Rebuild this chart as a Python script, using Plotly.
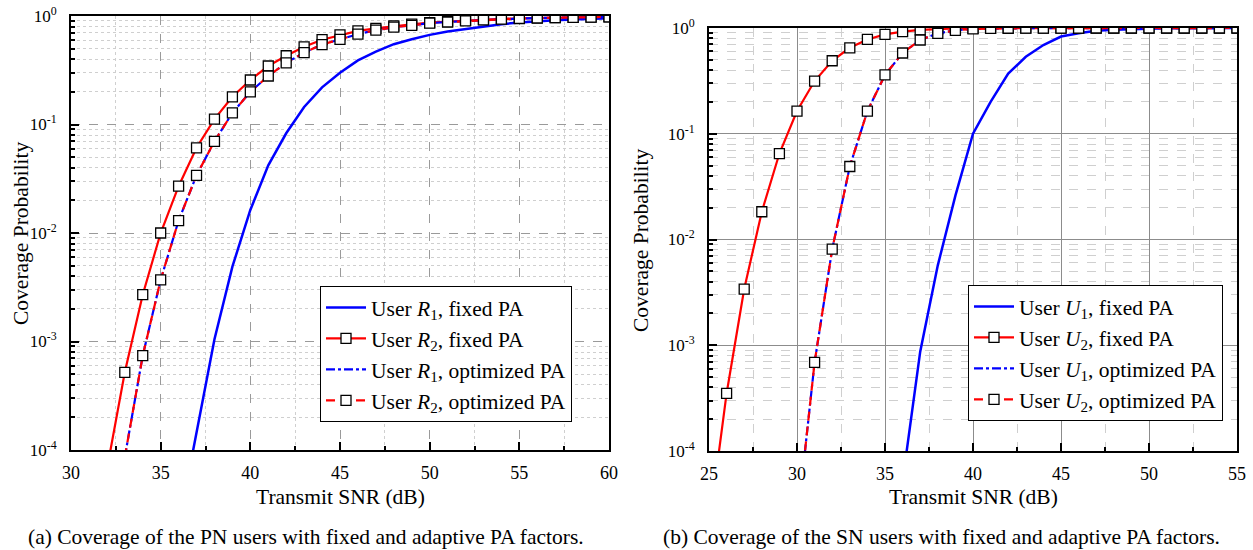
import plotly.graph_objects as go

# ---------------- data ----------------
# (a) primary-network users, transmit SNR in dB
snr_pn = list(range(32, 61))
pn_r1_fixed = [None, None, None, None, 2e-5, 1.5e-4, 1.05e-3, 4.9e-3, 0.0163, 0.042,
               0.083, 0.145, 0.22, 0.30, 0.39, 0.47, 0.55, 0.61, 0.67, 0.72,
               0.76, 0.80, 0.84, 0.87, 0.895, 0.915, 0.93, 0.945, 0.955]
pn_r2_fixed = [6.6e-5, 5.2e-4, 2.7e-3, 0.010, 0.027, 0.061, 0.112, 0.18, 0.257, 0.346,
               0.43, 0.52, 0.605, 0.67, 0.73, 0.77, 0.81, 0.84, 0.87, 0.89,
               0.91, 0.925, 0.94, 0.95, 0.96, 0.967, 0.973, 0.978, 0.983]
pn_r1_opt = [None, 8.6e-5, 7.4e-4, 3.7e-3, 0.013, 0.034, 0.07, 0.128, 0.20, 0.28,
             0.37, 0.46, 0.545, 0.61, 0.68, 0.74, 0.79, 0.82, 0.86, 0.88,
             0.90, 0.92, 0.935, 0.948, 0.958, 0.966, 0.972, 0.977, 0.982]
pn_r2_opt = list(pn_r1_opt)

# (b) secondary-network users
snr_sn = list(range(25, 56))
sn_u1_fixed = [None] * 11 + [5.2e-5, 8.7e-4, 5.7e-3, 0.026, 0.10, 0.20, 0.37, 0.535, 0.69,
                             0.83, 0.89, 0.94, 0.965, 0.98, 0.99, 0.995, 0.997, 0.998, 0.999, 0.999]
sn_u2_fixed = [1.9e-5, 3.5e-4, 3.4e-3, 0.0183, 0.065, 0.164, 0.315, 0.49, 0.65, 0.78,
               0.87, 0.925, 0.96, 0.98, 0.99, 0.995, 0.997, 0.998, 0.999, 0.9995,
               0.9995, 0.9995, 0.9995, 0.9995, 0.9995, 0.9995, 0.9995, 0.9995, 0.9995, 0.9995, 0.9995]
sn_u1_opt = [None] * 5 + [2e-5, 6.9e-4, 8.1e-3, 0.049, 0.164, 0.36, 0.58, 0.77, 0.89, 0.95,
                          0.98, 0.99, 0.995, 0.997, 0.998, 0.999, 0.999, 0.9995, 0.9995, 0.9995,
                          0.9995, 0.9995, 0.9995, 0.9995, 0.9995, 0.9995]
sn_u2_opt = list(sn_u1_opt)

y_tickvals = [1e-4, 1e-3, 1e-2, 1e-1, 1]
y_ticktext = ["10<sup>-4</sup>", "10<sup>-3</sup>", "10<sup>-2</sup>", "10<sup>-1</sup>", "10<sup>0</sup>"]
y_minor = [k * 10.0 ** e for e in range(-4, 0) for k in range(2, 10)]

FONT = "Liberation Serif, Times New Roman, serif"
BLUE = "#0000ff"
RED = "#ff0000"
TEXT_SIZE = 21.5

fig = go.Figure()


def add_series(x, y, name, color, dash, marker, xa, ya, legend, width=2.2):
    fig.add_trace(go.Scatter(
        x=x, y=y, name=name, mode="lines+markers" if marker else "lines",
        line=dict(color=color, width=width, dash=dash),
        marker=dict(symbol="square", size=10, color="white",
                    line=dict(color="black", width=1.3)) if marker else None,
        xaxis=xa, yaxis=ya, legend=legend,
    ))


add_series(snr_pn, pn_r1_fixed, "User <i>R</i><sub>1</sub>, fixed PA", BLUE, "solid", False, "x", "y", "legend", 2.5)
add_series(snr_pn, pn_r2_fixed, "User <i>R</i><sub>2</sub>, fixed PA", RED, "solid", True, "x", "y", "legend")
add_series(snr_pn, pn_r1_opt, "User <i>R</i><sub>1</sub>, optimized PA", BLUE, "dashdot", False, "x", "y", "legend")
add_series(snr_pn, pn_r2_opt, "User <i>R</i><sub>2</sub>, optimized PA", RED, "9px,6px", True, "x", "y", "legend")

add_series(snr_sn, sn_u1_fixed, "User <i>U</i><sub>1</sub>, fixed PA", BLUE, "solid", False, "x2", "y2", "legend2", 2.5)
add_series(snr_sn, sn_u2_fixed, "User <i>U</i><sub>2</sub>, fixed PA", RED, "solid", True, "x2", "y2", "legend2")
add_series(snr_sn, sn_u1_opt, "User <i>U</i><sub>1</sub>, optimized PA", BLUE, "dashdot", False, "x2", "y2", "legend2")
add_series(snr_sn, sn_u2_opt, "User <i>U</i><sub>2</sub>, optimized PA", RED, "9px,6px", True, "x2", "y2", "legend2")

W, H = 1253, 550


def px_x(v):
    return v / W


def px_y(v):
    return 1 - v / H


def xaxis(domain, rng, anchor, major_grid, minor_grid):
    return dict(
        domain=domain, range=rng, dtick=5, tick0=0, anchor=anchor, automargin=False,
        showline=True, mirror=True, linecolor="black", linewidth=1.8,
        ticks="inside", ticklen=8, tickwidth=1.5, tickcolor="black",
        tickfont=dict(family=FONT, size=18, color="black"), ticklabelstandoff=5,
        showgrid=True, gridcolor=major_grid[0], griddash=major_grid[1], gridwidth=1,
        zeroline=False,
        minor=dict(dtick=2.5, ticks="inside", ticklen=4, tickcolor="black",
                   showgrid=True, gridcolor=minor_grid[0], griddash=minor_grid[1], gridwidth=1),
    )


def yaxis(domain, anchor, major_grid, minor_grid):
    return dict(
        domain=domain, anchor=anchor, type="log", range=[-4, 0], automargin=False,
        tickmode="array", tickvals=y_tickvals, ticktext=y_ticktext,
        showline=True, mirror=True, linecolor="black", linewidth=1.8,
        ticks="inside", ticklen=8, tickwidth=1.5, tickcolor="black",
        tickfont=dict(family=FONT, size=17, color="black"), ticklabelstandoff=9,
        showgrid=True, gridcolor=major_grid[0], griddash=major_grid[1], gridwidth=1,
        zeroline=False,
        minor=dict(tickmode="array", tickvals=y_minor, ticks="inside", ticklen=4, tickcolor="black",
                   showgrid=True, gridcolor=minor_grid[0], griddash=minor_grid[1], gridwidth=1),
    )


legend_style = dict(
    bgcolor="white", bordercolor="black", borderwidth=1,
    font=dict(family=FONT, size=TEXT_SIZE, color="black"),
    xanchor="right", yanchor="bottom", itemwidth=40, tracegroupgap=0,
)

fig.update_layout(
    width=W, height=H,
    margin=dict(l=0, r=0, t=0, b=0),
    paper_bgcolor="white", plot_bgcolor="white",
    font=dict(family=FONT, color="black"),
    xaxis=xaxis([px_x(71), px_x(609)], [30, 60], "y", ("#9a9a9a", "dash"), ("#cfcfcf", "dot")),
    yaxis=yaxis([px_y(450), px_y(16)], "x", ("#9a9a9a", "dash"), ("#cfcfcf", "dot")),
    xaxis2=xaxis([px_x(709), px_x(1237)], [25, 55], "y2", ("#8c8c8c", "solid"), ("#cfcfcf", "dash")),
    yaxis2=yaxis([px_y(451), px_y(28)], "x2", ("#8c8c8c", "solid"), ("#cfcfcf", "dash")),
    legend=dict(legend_style, x=px_x(572), y=px_y(422)),
    legend2=dict(legend_style, x=px_x(1223), y=px_y(421)),
    showlegend=True,
)

# axis titles and panel captions (text centres in pixels)
texts = [
    ("Transmit SNR (dB)", 340, 497, 0),
    ("Transmit SNR (dB)", 973, 497, 0),
    ("Coverage Probability", 21, 233, -90),
    ("Coverage Probability", 641, 240, -90),
    ("(a) Coverage of the PN users with fixed and adaptive PA factors.", 306, 537, 0),
    ("(b) Coverage of the SN users with fixed and adaptive PA factors.", 941, 537, 0),
]
for text, cx, cy, angle in texts:
    fig.add_annotation(text=text, x=px_x(cx), y=px_y(cy), xref="paper", yref="paper",
                       showarrow=False, xanchor="center", yanchor="middle", textangle=angle,
                       font=dict(family=FONT, size=TEXT_SIZE, color="black"))

fig.write_html("out.html")
